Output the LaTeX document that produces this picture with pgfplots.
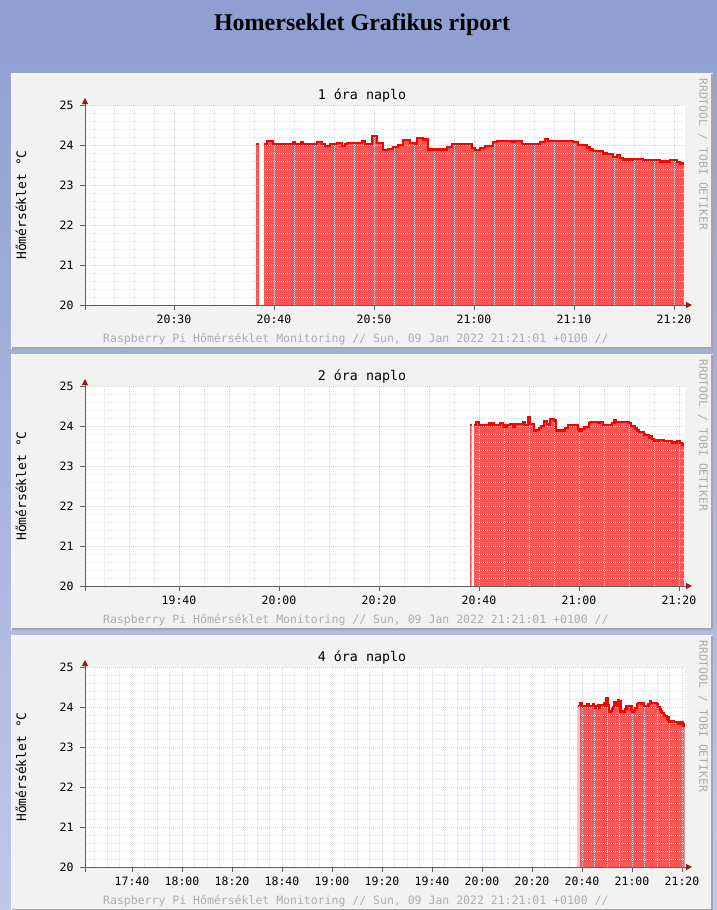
\documentclass[border=0pt]{standalone}
\usepackage{fontspec}
\usepackage{pgfplots}
\pgfplotsset{compat=1.18}
\usepackage{pgfplotstable}
\usetikzlibrary{arrows.meta}
\newfontfamily\rrd{DejaVu Sans Mono}
\newfontfamily\titlefont{Liberation Serif}
\definecolor{bgtop}{RGB}{143,158,209}
\definecolor{bgbot}{RGB}{192,199,233}
\definecolor{panelbg}{RGB}{242,242,242}
\definecolor{shadea}{RGB}{250,250,250}
\definecolor{shadeb}{RGB}{165,165,165}
\definecolor{areared}{RGB}{255,84,84}
\definecolor{linered}{RGB}{255,0,0}
\definecolor{axisgray}{RGB}{95,95,95}
\definecolor{arrowred}{RGB}{150,25,25}
\definecolor{gridminor}{RGB}{224,222,230}
\definecolor{gridmajor}{RGB}{212,210,218}
\definecolor{footgray}{RGB}{172,172,172}

\pgfplotstableread{
t v
1238.2 24.03
1238.5 24.03
}\bardata

\pgfplotstableread{
t v
1239.0 24.025
1239.33 24.10
1239.93 24.025
1241.93 24.075
1242.1 24.025
1242.67 24.075
1242.93 24.025
1244.27 24.075
1244.77 24.025
1245.1 23.975
1245.6 24.025
1246.27 24.06
1246.77 23.975
1247.1 24.025
1247.27 24.05
1248.77 24.11
1249.1 24.025
1249.77 24.225
1250.27 24.05
1250.43 24.06
1250.93 23.875
1251.43 23.91
1251.93 23.96
1252.43 24.0
1252.93 24.125
1253.6 24.05
1254.1 24.025
1254.27 24.17
1254.93 24.14
1255.43 23.89
1257.27 23.96
1257.77 24.025
1259.77 23.92
1260.1 23.875
1260.6 23.92
1261.1 23.975
1261.93 24.08
1262.27 24.11
1263.77 24.09
1264.1 24.11
1264.77 24.025
1266.6 24.08
1267.1 24.15
1267.43 24.1
1269.93 24.08
1270.43 24.01
1270.93 24.0
1271.27 23.94
1271.6 23.89
1271.93 23.86
1272.93 23.79
1273.27 23.77
1273.93 23.71
1274.27 23.75
1274.6 23.68
1274.93 23.64
1275.93 23.66
1276.93 23.62
1278.6 23.59
1279.6 23.62
1280.27 23.575
1280.6 23.54
1281.0 23.54
}\maindata

\pgfplotsset{
  rrd/.style={
    set layers, axis on top, clip mode=individual,
    scale only axis, width=600pt, height=200pt,
    anchor=south west,
    ymin=20, ymax=25,
    ytick={20,21,22,23,24,25},
    yticklabels={20,21,22,23,24,25},
    minor y tick num=4,
    grid=both,
    minor grid style={draw=gridminor, line width=1pt, dash pattern=on 1pt off 1pt},
    major grid style={draw=gridmajor, line width=1pt, dash pattern=on 1pt off 1pt},
    axis x line=bottom, axis y line=left,
    axis line style={draw=axisgray, line width=1pt},
    x axis line style={-{Triangle[length=6pt,width=6pt,color=arrowred]}, shorten >=-7pt, shorten <=-5pt},
    y axis line style={-{Triangle[length=6pt,width=6pt,color=arrowred]}, shorten >=-7pt, shorten <=-5pt},
    major tick length=5pt, minor tick length=0pt,
    tick align=outside,
    tick style={draw=axisgray, line width=1pt},
    tick label style={font=\rrd\fontsize{11.5}{13}\selectfont, text=black},
    xticklabel style={yshift=-1pt},
    yticklabel style={xshift=-3pt},
  },
  rrdarea/.style={const plot, fill=areared, draw=none},
  rrdline/.style={const plot, draw=linered, line width=2.2pt, on layer=axis foreground},
}

\newcommand\panel[2]{% top, title
  \fill[panelbg] (11pt,-#1pt) rectangle (713pt,{-(#1+276)*1pt});
  \draw[shadea, line width=1pt] (11.5pt,{-(#1+275.5)*1pt}) -- (11.5pt,{-(#1+0.5)*1pt}) -- (712pt,{-(#1+0.5)*1pt});
  \draw[shadeb, line width=2pt] (12pt,{-(#1+275)*1pt}) -- (712pt,{-(#1+275)*1pt}) -- (712pt,{-(#1+1)*1pt});
  \fill[white] (85pt,{-(#1+32)*1pt}) rectangle (685pt,{-(#1+232)*1pt});
  \node[font=\rrd\fontsize{13.3}{15}\selectfont, text=black] at (362pt,{-(#1+23)*1pt}) {#2};
  \node[font=\rrd\fontsize{13}{15}\selectfont, text=black, rotate=90] at (21pt,{-(#1+132)*1pt}) {Hőmérséklet °C};
  \node[font=\rrd\fontsize{11.5}{13}\selectfont, text=footgray, anchor=west, inner sep=0pt] at (103pt,{-(#1+266)*1pt}) {Raspberry Pi Hőmérséklet Monitoring // Sun, 09 Jan 2022 21:21:01 +0100 //};
  \node[font=\rrd\fontsize{11.5}{13}\selectfont, text=footgray, rotate=-90, anchor=west, inner sep=0pt] at (703pt,{-(#1+5)*1pt}) {RRDTOOL / TOBI OETIKER};
}

\begin{document}
\begin{tikzpicture}
\shade[top color=bgtop, bottom color=bgbot] (0pt,0pt) rectangle (717pt,-910pt);
\node[font=\titlefont\bfseries\fontsize{24}{28}\selectfont, text=black] at (362pt,-25pt) {Homerseklet Grafikus riport};

\panel{73}{1 óra naplo}
\panel{354}{2 óra naplo}
\panel{635}{4 óra naplo}

% Panel 1: 1 hour
\begin{axis}[rrd, at={(85pt,-305pt)},
  xmin=1221.1, xmax=1281.1,
  xtick={1230,1240,1250,1260,1270,1280},
  xticklabels={20:30,20:40,20:50,21:00,21:10,21:20},
  minor xtick={1222,1224,...,1280}]
\addplot[rrdarea] table {\bardata} \closedcycle;
\addplot[rrdarea] table {\maindata} \closedcycle;
\addplot[rrdline] table {\bardata};
\addplot[rrdline] table {\maindata};
\end{axis}

% Panel 2: 2 hours
\begin{axis}[rrd, at={(85pt,-586pt)},
  xmin=1161.2, xmax=1281.2,
  xtick={1180,1200,1220,1240,1260,1280},
  xticklabels={19:40,20:00,20:20,20:40,21:00,21:20},
  minor xtick={1165,1170,...,1280}]
\addplot[rrdarea] table {\bardata} \closedcycle;
\addplot[rrdarea] table {\maindata} \closedcycle;
\addplot[rrdline] table {\bardata};
\addplot[rrdline] table {\maindata};
\end{axis}

% Panel 3: 4 hours
\begin{axis}[rrd, at={(85pt,-867pt)},
  xmin=1041.2, xmax=1281.2,
  xtick={1060,1080,1100,1120,1140,1160,1180,1200,1220,1240,1260,1280},
  xticklabels={17:40,18:00,18:20,18:40,19:00,19:20,19:40,20:00,20:20,20:40,21:00,21:20},
  minor xtick={1045,1050,...,1280}]
\addplot[rrdarea] table {\bardata} \closedcycle;
\addplot[rrdarea] table {\maindata} \closedcycle;
\addplot[rrdline] table {\bardata};
\addplot[rrdline] table {\maindata};
\end{axis}
\pgfresetboundingbox
\useasboundingbox (0pt,0pt) rectangle (717pt,-910pt);
\end{tikzpicture}
\end{document}
